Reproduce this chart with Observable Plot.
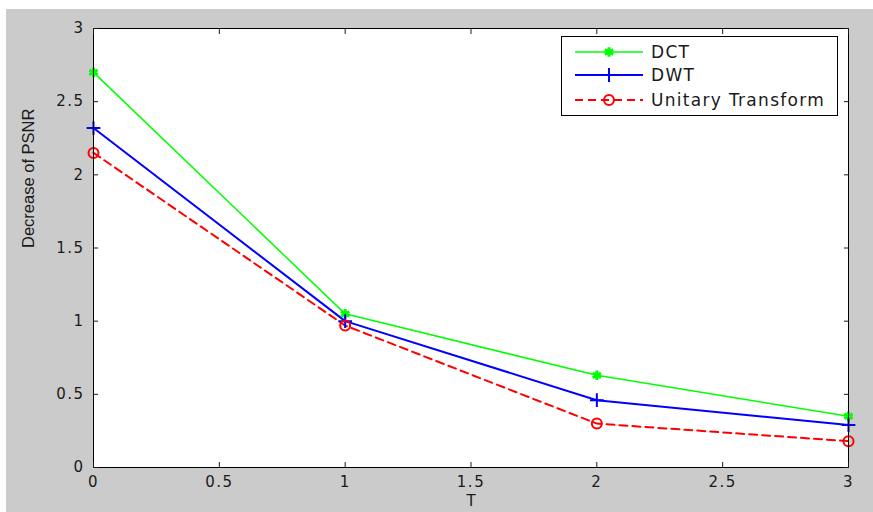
<!DOCTYPE html>
<html>
<head>
<meta charset="utf-8">
<script src="https://cdn.jsdelivr.net/npm/d3@7"></script>
<script src="https://cdn.jsdelivr.net/npm/@observablehq/plot@0.6"></script>
<style>
  html, body { margin: 0; padding: 0; background: #ffffff; }
  #chart { position: absolute; left: 6px; top: 9px; }
  #chart svg { display: block; }
  g[aria-label="x-axis tick label"] text, g[aria-label="y-axis tick label"] text { letter-spacing: 1.5px; }
  #legend { position: absolute; left: 561px; top: 36px; }
</style>
</head>
<body>
<div id="chart"></div>
<div id="legend"></div>
<script>
// ---- data ----
const T = [0, 1, 2, 3];
const dct = [2.70, 1.05, 0.63, 0.35];
const dwt = [2.32, 1.00, 0.46, 0.29];
const unitary = [2.15, 0.97, 0.30, 0.18];
const seriesNames = ["DCT", "DWT", "Unitary Transform"];
const xTicks = [0, 0.5, 1, 1.5, 2, 2.5, 3];
const yTicks = [0, 0.5, 1, 1.5, 2, 2.5, 3];
const xLabel = "T";
const yLabel = "Decrease of PSNR";

const toRows = (vals) => T.map((t, i) => ({t, v: vals[i]}));
const dctRows = toRows(dct), dwtRows = toRows(dwt), uniRows = toRows(unitary);

const GREEN = "#00ff00", BLUE = "#0000ff", RED = "#ff0000";
const fmt = d => String(d);

const chart = Plot.plot({
  width: 867,
  height: 503,
  marginLeft: 87,
  marginRight: 25,
  marginTop: 19,
  marginBottom: 45,
  style: {background: "#cbcbcb", fontFamily: "DejaVu Sans", fontSize: "15px", color: "#1a1a1a"},
  x: {domain: [0, 3]},
  y: {domain: [0, 3]},
  marks: [
    Plot.frame({fill: "white", stroke: null}),
    Plot.line(dctRows, {x: "t", y: "v", stroke: GREEN, strokeWidth: 1.5}),
    Plot.line(dwtRows, {x: "t", y: "v", stroke: BLUE, strokeWidth: 2}),
    Plot.line(uniRows, {x: "t", y: "v", stroke: RED, strokeWidth: 2, strokeDasharray: "8,5"}),
    Plot.dot(dctRows, {x: "t", y: "v", symbol: "asterisk", r: 4.5, stroke: GREEN, strokeWidth: 3}),
    Plot.dot(dwtRows, {x: "t", y: "v", symbol: "plus", r: 4.5, stroke: BLUE, strokeWidth: 2}),
    Plot.dot(uniRows, {x: "t", y: "v", symbol: "circle", r: 5, stroke: RED, fill: "none", strokeWidth: 2}),
    Plot.frame({stroke: "black", strokeWidth: 1}),
    // inward ticks on all four sides
    Plot.axisX(xTicks, {anchor: "bottom", tickSize: -5, tickFormat: () => "", label: null}),
    Plot.axisX(xTicks, {anchor: "top", tickSize: -5, tickFormat: () => "", label: null}),
    Plot.axisY(yTicks, {anchor: "left", tickSize: -5, tickFormat: () => "", label: null}),
    Plot.axisY(yTicks, {anchor: "right", tickSize: -5, tickFormat: () => "", label: null}),
    // tick labels
    Plot.axisX(xTicks, {anchor: "bottom", tickSize: 0, tickPadding: 9, tickFormat: fmt, label: null}),
    Plot.axisY(yTicks, {anchor: "left", tickSize: 0, tickPadding: 9, tickFormat: fmt, label: null}),
    // axis titles
    Plot.text([xLabel], {text: d => d, frameAnchor: "bottom", dy: 38, fontFamily: "DejaVu Sans", fontSize: 15}),
    Plot.text([yLabel], {text: d => d, frameAnchor: "left", rotate: -90, dx: -65, fontFamily: "Liberation Sans", fontSize: 16.5})
  ]
});
document.getElementById("chart").appendChild(chart);

// ---- legend ----
const legendW = 277, legendH = 80;
const leg = d3.select("#legend").append("svg")
  .attr("width", legendW).attr("height", legendH)
  .style("display", "block");
leg.append("rect").attr("x", 0.5).attr("y", 0.5).attr("width", legendW - 1).attr("height", legendH - 1)
  .attr("fill", "white").attr("stroke", "black");
const legendItems = [
  {name: seriesNames[0], color: GREEN, sym: d3.symbolAsterisk, dash: null, w: 1.5, sw: 3, size: 64},
  {name: seriesNames[1], color: BLUE, sym: d3.symbolPlus, dash: null, w: 2, sw: 2, size: 64},
  {name: seriesNames[2], color: RED, sym: d3.symbolCircle, dash: "8,5", w: 2, sw: 2, size: 78}
];
const rowY = [16, 39, 64];
legendItems.forEach((it, i) => {
  const g = leg.append("g").attr("transform", `translate(0,${rowY[i]})`);
  g.append("line").attr("x1", 14).attr("x2", 82).attr("y1", 0).attr("y2", 0)
    .attr("stroke", it.color).attr("stroke-width", it.w)
    .attr("stroke-dasharray", it.dash);
  g.append("path").attr("d", d3.symbol(it.sym, it.size)())
    .attr("transform", "translate(48,0)")
    .attr("fill", "none").attr("stroke", it.color).attr("stroke-width", it.sw);
  g.append("text").attr("x", 90).attr("y", 0).attr("dy", "0.36em")
    .attr("font-family", "DejaVu Sans").attr("font-size", 17)
    .attr("letter-spacing", "1.3px").attr("fill", "#1a1a1a").text(it.name);
});
</script>
</body>
</html>
